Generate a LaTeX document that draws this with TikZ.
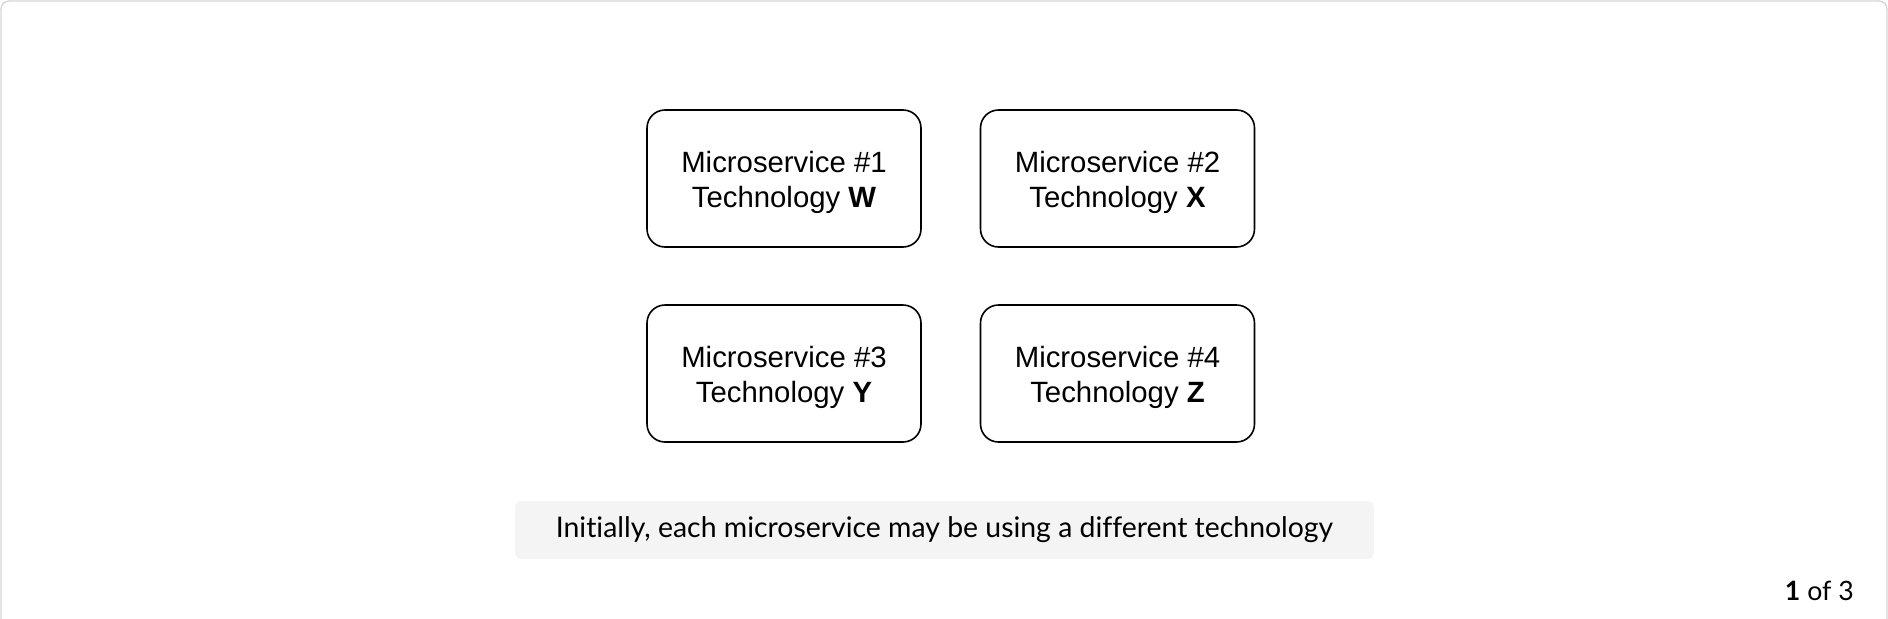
\documentclass[tikz,border=0pt]{standalone}
\usepackage{fontspec}
\setmainfont{Liberation Sans}
\newfontfamily\capfont[Ligatures=NoCommon]{Lato}
\usetikzlibrary{positioning}
\definecolor{framegray}{HTML}{D6D6D6}
\definecolor{capgray}{HTML}{F4F4F4}
\newcommand{\mstop}{\rule{0pt}{21.5pt}}
\tikzset{
    msbox/.style={draw=black, line width=1.2pt, rounded corners=13.5pt,
        minimum width=205.5pt, minimum height=102.75pt, align=center,
        inner sep=0pt, font=\fontsize{22}{26.5}\selectfont},
    capbox/.style={fill=capgray, rounded corners=4.5pt, minimum width=644pt,
        minimum height=43.5pt, inner sep=0pt, font=\capfont\fontsize{21.3}{24}\selectfont},
}
\begin{document}
\begin{tikzpicture}[x=0.75pt,y=0.75pt,yscale=-1,xscale=1]
    \useasboundingbox (0,0) rectangle (1888,618);
    % outer frame
    \draw[framegray, line width=1pt, rounded corners=6pt] (1,660) -- (1,1) -- (1887,1) -- (1887,660);
    % Microservices
    \node[msbox] (ms1) at (784,178.5)    {\mstop Microservice \#1\\Technology \textbf{W}};
    \node[msbox] (ms2) at (1117.5,178.5) {\mstop Microservice \#2\\Technology \textbf{X}};
    \node[msbox] (ms3) at (784,373.5)    {\mstop Microservice \#3\\Technology \textbf{Y}};
    \node[msbox] (ms4) at (1117.5,373.5) {\mstop Microservice \#4\\Technology \textbf{Z}};
    % Caption
    \node[capbox] (caption) at (944.5,530) {Initially, each microservice may be using a different technology};
    % Page counter
    \node[anchor=east, inner sep=0pt, font=\capfont\fontsize{20}{24}\selectfont] (counter) at (1854,591) {\textbf{1} of 3};
\end{tikzpicture}
\end{document}
